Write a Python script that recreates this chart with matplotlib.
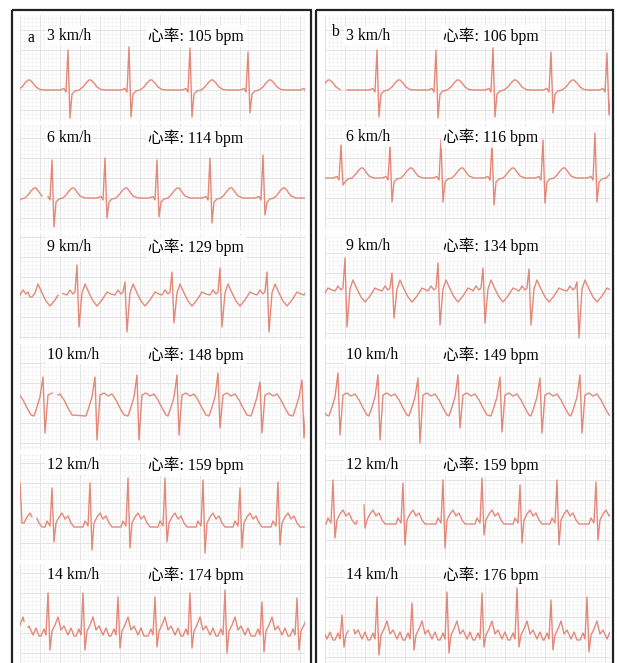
import numpy as np
import matplotlib
matplotlib.use('Agg')
import matplotlib.pyplot as plt
from matplotlib.patches import Rectangle

W, H = 617, 663

speeds = [3, 6, 9, 10, 12, 14]
hr_a = [105, 114, 129, 148, 159, 174]
hr_b = [106, 116, 134, 149, 159, 176]

# R-peak positions along each strip (panel a / panel b)
beats_a = [
    [7, 68, 129, 190, 248, 308],
    [14, 52, 105, 157, 210, 263, 315],
    [30, 77, 125, 172, 220, 267, 314],
    [2, 43, 95, 137, 177, 218, 260, 302],
    [-17, 20, 52, 90, 128, 165, 203, 240, 278, 315],
    [13, 48, 83, 118, 155, 190, 225, 262, 297, 332],
]
beats_b = [
    [307, 377, 436, 493, 551, 607],
    [290, 341, 390, 441, 492, 543, 595],
    [298, 345, 392, 438, 483, 529, 577, 624],
    [297, 338, 378, 418, 458, 500, 540, 580, 621],
    [296, 333, 363, 403, 443, 482, 520, 557, 596, 633],
    [307, 342, 377, 412, 447, 482, 517, 551, 587, 622],
]
# R wave heights and S wave depths for each beat
r_a = [
    [0, 40, 43, 42, 38, 0],
    [0, 38, 40, 38, 40, 43, 0],
    [0, 32, 15, 25, 29, 25, 0],
    [0, 26, 26, 28, 28, 30, 21, 23],
    [0, 40, 35, 40, 45, 45, 43, 35, 41, 0],
    [0, 40, 40, 36, 36, 40, 43, 31, 35, 0],
]
s_a = [
    [0, 28, 27, 27, 23, 0],
    [0, 29, 20, 19, 25, 17, 0],
    [0, 30, 35, 26, 30, 35, 0],
    [0, 30, 37, 37, 32, 25, 30, 35],
    [0, 0, 19, 27, 25, 19, 30, 25, 22, 0],
    [0, 17, 17, 15, 14, 15, 20, 19, 17, 0],
]
r_b = [
    [0, 40, 40, 42, 38, 37],
    [0, 33, 33, 38, 35, 38, 45],
    [0, 35, 20, 30, 25, 24, 11, 0],
    [0, 30, 28, 25, 28, 26, 25, 28, 0],
    [0, 40, 38, 37, 40, 42, 35, 40, 38, 0],
    [0, 22, 40, 34, 45, 44, 49, 37, 40, 0],
]
s_b = [
    [0, 27, 28, 27, 23, 25],
    [0, 7, 24, 24, 27, 25, 24],
    [0, 34, 25, 32, 30, 32, 45, 0],
    [0, 32, 37, 40, 25, 29, 30, 30, 0],
    [0, 18, 8, 25, 28, 15, 23, 25, 20, 0],
    [0, 10, 18, 13, 16, 10, 10, 13, 15, 0],
]
# breaks in the recorded trace
gaps_a = [[], [(42, 48)], [(58, 63)], [(52, 58)], [(32, 37)], [(24, 28)]]
gaps_b = [[(340, 347)], [], [], [], [(357, 364)], [(348, 354)]]

# beat shape per speed: offsets from R and amplitudes ('R' / 'S' take the per-beat values)
shape_off = [
    [-8, -4, -2, 0, 2, 4, 7, 11, 15, 18, 21, 23, 26, 29, 33, 38],
    [-8, -4, -2, 0, 2, 4, 7, 11, 14, 17, 20, 22, 25, 28, 33],
    [-10, -7, -4, -2, 0, 2, 5, 8, 12, 16, 20, 25, 30, 34],
    [-9, -6, -3, 0, 2, 5, 9, 13, 17, 21, 25, 29],
    [-7, -5, -2, 0, 2, 4, 7, 10, 13, 16, 19, 22],
    [-7, -4, -2, 0, 2, 4, 7, 10, 13, 16, 20, 23, 26],
]
shape_amp = [
    [0, 1.5, -2, 'R', 'S', -4, -1, 0, 3, 7, 10, 10, 7, 3, 0.5, 0],
    [0, 1.5, -2, 'R', 'S', -4, -1, 0, 3, 7, 10, 10, 6, 2, 0],
    [2, 7, 3, 5, 'R', 'S', 4, 13, 4, -4, -9, -3, 5, 3],
    [-13, -4, 6, 'R', 'S', 8, 10, 7, 9, 3, -5, -12],
    [-4, 2, -3, 'R', 'S', 0, 6, 10, 4, 7, 0, -4],
    [-3, 4, -2, 'R', 'S', 2, 8, 16, 3, 7, -2, 5, -3],
]

# layout (pixels)
base_a = [90, 198, 297, 403, 523, 633]
base_b = [90, 178, 293, 403, 520, 637]
row_top = [15, 124, 234, 344, 454, 564]
row_h = 106
label_y_a = [36, 138, 247, 355, 465, 575]
label_y_b = [36, 137, 246, 355, 465, 575]

FONT = ['Liberation Serif', 'Noto Sans CJK SC']
TRACE = '#e27c6b'


def build_trace(beats, rs, ss, off, amp, gaps):
    xs, ys = [], []
    for b, r, s in zip(beats, rs, ss):
        for o, a in zip(off, amp):
            xs.append(b + o)
            ys.append(r if a == 'R' else (-s if a == 'S' else a))
    xs = np.array(xs, float)
    ys = np.array(ys, float)
    for g0, g1 in gaps:
        y0, y1 = np.interp([g0, g1], xs, ys)
        keep = (xs < g0) | (xs > g1)
        xs, ys = xs[keep], ys[keep]
        i = np.searchsorted(xs, g0)
        xs = np.insert(xs, i, [g0, np.nan, g1])
        ys = np.insert(ys, i, [y0, np.nan, y1])
    return xs, ys


def add_row(fig, x0, x1, top, base, xs, ys):
    ax = fig.add_axes([x0 / W, 1 - (top + row_h) / H, (x1 - x0) / W, row_h / H])
    lo, hi = base - (top + row_h), base - top
    ax.set_xticks(np.arange(x0, x1 + 1, 20))
    ax.set_xticks(np.arange(x0, x1 + 1, 4), minor=True)
    ax.set_yticks(np.arange(lo - lo % 20, hi, 20))
    ax.set_yticks(np.arange(lo - lo % 4, hi, 4), minor=True)
    ax.set_xlim(x0, x1)
    ax.set_ylim(lo, hi)
    ax.grid(which='minor', color='#f3f3f3', lw=0.5)
    ax.grid(which='major', color='#e2e2e2', lw=0.7)
    ax.tick_params(which='both', length=0, labelbottom=False, labelleft=False)
    for sp in ax.spines.values():
        sp.set_visible(False)
    ax.plot(xs, ys, color=TRACE, lw=1.0, alpha=0.9, solid_joinstyle='round')
    return ax


def main():
    fig = plt.figure(figsize=(W / 100, H / 100), dpi=100)
    fig.patch.set_facecolor('white')

    panels = [
        (20, 305, beats_a, r_a, s_a, gaps_a, base_a, hr_a, label_y_a, 47, 148),
        (325, 610, beats_b, r_b, s_b, gaps_b, base_b, hr_b, label_y_b, 346, 443),
    ]
    for x0, x1, beats, rr, ss, gaps, bases, hrs, ly, sx, hx in panels:
        for i in range(6):
            xs, ys = build_trace(beats[i], rr[i], ss[i], shape_off[i],
                                 shape_amp[i], gaps[i])
            add_row(fig, x0, x1, row_top[i], bases[i], xs, ys)

    # overlay in pixel coordinates for frames and labels
    ov = fig.add_axes([0, 0, 1, 1], zorder=5)
    ov.set_xlim(0, W)
    ov.set_ylim(H, 0)
    ov.axis('off')
    ov.patch.set_alpha(0)
    ov.add_patch(Rectangle((12, 10), 299, 700, fill=False, ec='#222222', lw=1.6))
    ov.add_patch(Rectangle((316, 10), 297, 700, fill=False, ec='#222222', lw=1.6))

    box = dict(facecolor='white', edgecolor='none', alpha=0.8, pad=1.5)
    for x0, x1, beats, rr, ss, gaps, bases, hrs, ly, sx, hx in panels:
        for i in range(6):
            ov.text(sx, ly[i], f'{speeds[i]} km/h', family=FONT, fontsize=11.3,
                    va='center', ha='left', bbox=box)
            ov.text(hx, ly[i], f'心率: {hrs[i]} bpm', family=FONT, fontsize=11.3,
                    va='center', ha='left', bbox=box)
    ov.text(28, 38, 'a', family=FONT, fontsize=11.3, va='center', ha='left')
    ov.text(331, 32, 'b', family=FONT, fontsize=11.3, va='center', ha='left')

    fig.savefig('out.png', dpi=100)


if __name__ == '__main__':
    main()
